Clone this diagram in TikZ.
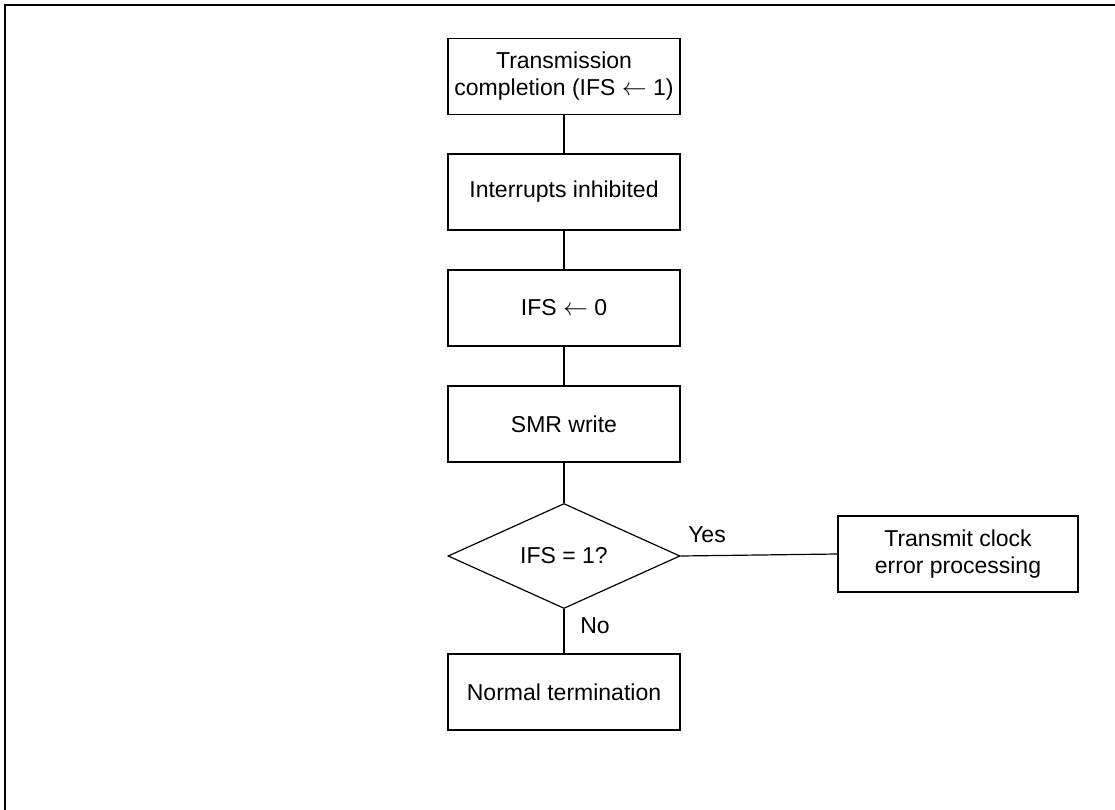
\documentclass[tikz,border=0pt]{standalone}
\usepackage{fontspec}
\setmainfont{Liberation Sans}
\usetikzlibrary{shapes.geometric}
\begin{document}
\begin{tikzpicture}[x=1pt,y=-1pt,
  every node/.style={font=\fontsize{23}{27}\selectfont},
  procbox/.style={draw,line width=1.2pt,rectangle,minimum width=232pt,minimum height=76pt,inner sep=0pt,align=center},
  decbox/.style={draw,line width=1.2pt,diamond,minimum width=232pt,minimum height=105pt,aspect=2.2,inner sep=0pt},
  conn/.style={line width=1.2pt},
  lbl/.style={inner sep=0pt}]
\useasboundingbox (0,0) rectangle (1115,810);
\draw[line width=2pt] (5,810) -- (5,5) -- (1115,5);
\node[procbox] (b1) at (564,76.5) {Transmission\\completion (IFS $\leftarrow$ 1)};
\node[procbox] (b2) at (564,192) {Interrupts inhibited};
\node[procbox] (b3) at (564,308) {IFS $\leftarrow$ 0};
\node[procbox] (b4) at (564,424) {SMR write};
\node[decbox] (d) at (564,556) {IFS = 1?};
\node[procbox,minimum width=240pt] (err) at (958,554) {Transmit clock\\error processing};
\node[procbox] (norm) at (564,692) {Normal termination};
\node[lbl] (yes) at (707,535) {Yes};
\node[lbl] (no) at (595,626) {No};
\draw[conn] (b1) -- (b2);
\draw[conn] (b2) -- (b3);
\draw[conn] (b3) -- (b4);
\draw[conn] (b4) -- (d.north);
\draw[conn] (d.east) -- (err.west);
\draw[conn] (d.south) -- (norm);
\end{tikzpicture}
\end{document}
